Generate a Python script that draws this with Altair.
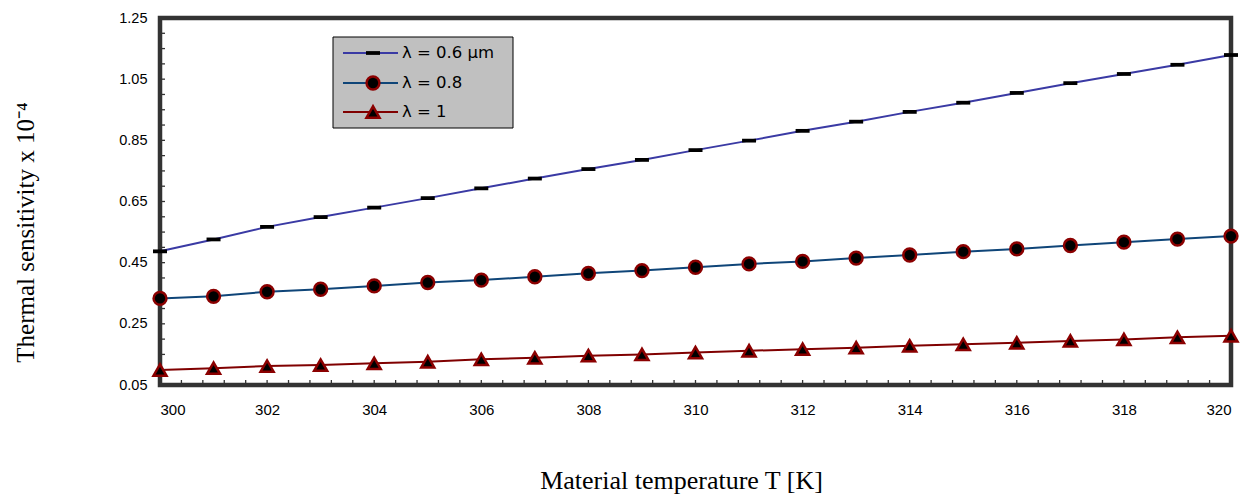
import altair as alt
import pandas as pd
import numpy as np

# ---------------- data ----------------
temps = list(range(300, 321))
sens_06 = [0.487, 0.526, 0.567, 0.599, 0.630, 0.661, 0.693, 0.725, 0.756, 0.786, 0.818,
           0.849, 0.881, 0.911, 0.943, 0.973, 1.005, 1.037, 1.067, 1.097, 1.129]
sens_08 = [0.333, 0.340, 0.355, 0.363, 0.374, 0.385, 0.393, 0.404, 0.415, 0.424, 0.435,
           0.446, 0.454, 0.465, 0.475, 0.486, 0.495, 0.506, 0.517, 0.527, 0.537]
sens_10 = [0.099, 0.105, 0.112, 0.115, 0.121, 0.126, 0.134, 0.139, 0.146, 0.150, 0.156,
           0.162, 0.167, 0.172, 0.178, 0.183, 0.188, 0.194, 0.199, 0.206, 0.211]
series_names = ["λ = 0.6 µm", "λ = 0.8", "λ = 1"]
y_tick_values = [0.05, 0.25, 0.45, 0.65, 0.85, 1.05, 1.25]
x_tick_values = list(range(300, 321, 2))

line_colors = ["#3a3aa4", "#0f4578", "#800000"]
marker_stroke = "#8b0000"

W, H = 1071, 367

frames = []
for name, vals in zip(series_names, [sens_06, sens_08, sens_10]):
    frames.append(pd.DataFrame({"T": temps, "S": vals, "series": name}))
df = pd.concat(frames, ignore_index=True)

xs = alt.Scale(domain=[300, 320], nice=False, zero=False)
ys = alt.Scale(domain=[0.05, 1.25], nice=False, zero=False)

x_axis = alt.Axis(values=x_tick_values, format="d", labelFont="Liberation Sans",
                  labelFontSize=15, labelColor="black", labelPadding=17,
                  title="Material temperature T [K]", titleFont="Liberation Serif",
                  titleFontSize=26, titleFontWeight="normal", titleColor="black",
                  titleX=521, titleY=103, titleBaseline="alphabetic", titleAlign="center")
y_axis = alt.Axis(values=y_tick_values, format=".2f", labelFont="Liberation Sans",
                  labelFontSize=14.5, labelColor="black", labelPadding=13,
                  title="Thermal sensitivity x 10⁻⁴", titleFont="Liberation Serif",
                  titleFontSize=25, titleFontWeight="normal", titleColor="black",
                  titleX=-127, titleY=214, titleAngle=270, titleAlign="center",
                  titleBaseline="alphabetic")

X = lambda f: alt.X(f, scale=xs, axis=x_axis)
Y = lambda f: alt.Y(f, scale=ys, axis=y_axis)

layers = []
# lines
for i, name in enumerate(series_names):
    sub = df[df.series == name]
    layers.append(alt.Chart(sub).mark_line(color=line_colors[i], strokeWidth=2)
                  .encode(x=X("T:Q"), y=Y("S:Q")))

# inner tick marks
xt = pd.DataFrame({"T": np.round(np.arange(300, 320.001, 0.4), 3)})
yt = pd.DataFrame({"S": np.round(np.arange(0.05, 1.2501, 0.05), 3)})
layers.append(alt.Chart(xt).mark_rule(color="#333333", strokeWidth=1.3).encode(
    x=X("T:Q"), y=alt.value(H), y2=alt.value(H - 5)))
layers.append(alt.Chart(yt).mark_rule(color="#333333", strokeWidth=1.3).encode(
    y=Y("S:Q"), x=alt.value(0), x2=alt.value(5)))

bar_shape = "M-1,-0.27L1,-0.27L1,0.27L-1,0.27Z"
marker_defs = [
    dict(shape=bar_shape, size=196, filled=True, fill="black", opacity=1, strokeWidth=0),
    dict(shape="circle", size=165, filled=True, fill="black", stroke=marker_stroke,
         strokeWidth=2.5, opacity=1),
    dict(shape="triangle-up", size=170, filled=True, fill="black", stroke=marker_stroke,
         strokeWidth=2.5, opacity=1),
]
for i, name in enumerate(series_names):
    sub = df[df.series == name]
    layers.append(alt.Chart(sub).mark_point(**marker_defs[i]).encode(
        x=X("T:Q"), y=Y("S:Q")))

# legend (drawn manually)
dummy = pd.DataFrame({"a": [0]})
layers.append(alt.Chart(dummy).mark_rect(fill="#c0c0c0", stroke="black", strokeWidth=1).encode(
    x=alt.value(173), x2=alt.value(353), y=alt.value(19), y2=alt.value(110)))
row_y = [35, 65, 94]
for i, name in enumerate(series_names):
    layers.append(alt.Chart(dummy).mark_rule(color=line_colors[i], strokeWidth=2).encode(
        x=alt.value(183), x2=alt.value(238), y=alt.value(row_y[i])))
    layers.append(alt.Chart(dummy).mark_point(**marker_defs[i]).encode(
        x=alt.value(213), y=alt.value(row_y[i])))
    layers.append(alt.Chart(dummy).mark_text(align="left", baseline="middle",
                                             font="DejaVu Sans", fontSize=16.5,
                                             color="black").encode(
        x=alt.value(242), y=alt.value(row_y[i]), text=alt.value(name)))

chart = alt.layer(*layers).properties(
    width=W, height=H,
    autosize=alt.AutoSizeParams(type="none"),
    padding={"left": 152, "top": 10, "right": 10, "bottom": 112},
).configure_view(stroke="#333333", strokeWidth=4.5).configure_axis(
    grid=False, domain=False, ticks=False)

chart.save("out.html", embed_options={"renderer": "svg", "actions": False})
